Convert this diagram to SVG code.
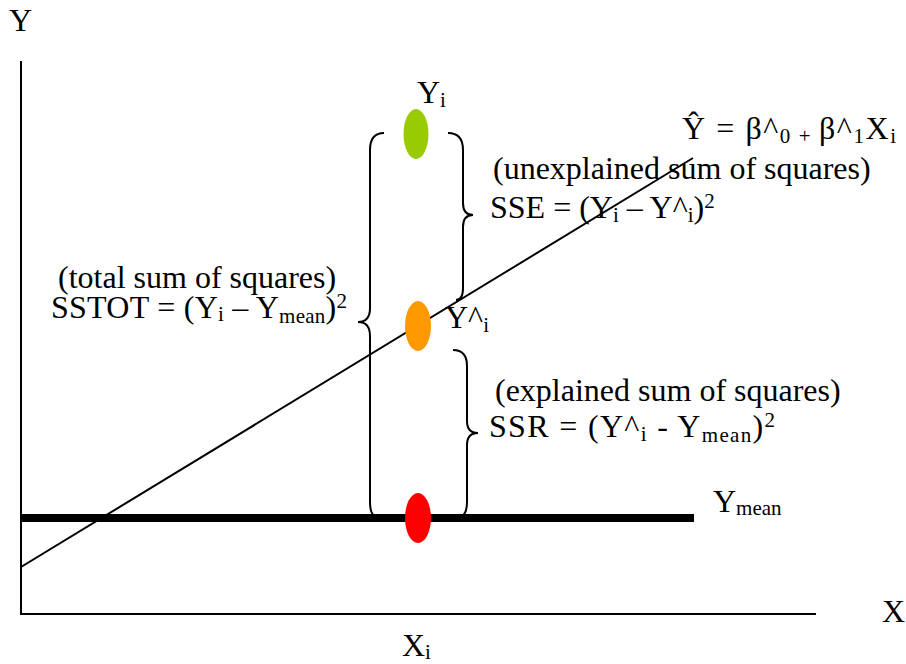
<svg xmlns="http://www.w3.org/2000/svg" width="906" height="664" viewBox="0 0 906 664">
<style>
text{font-family:"Liberation Serif","Times New Roman",serif;font-size:32px;fill:#000}
.sub{font-size:21px}
.axis{stroke:#000;stroke-width:2;fill:none}
.brace{stroke:#000;stroke-width:2;fill:none}
</style>
<rect width="906" height="664" fill="#fff"/>
<g id="axes">
<line class="axis" x1="21" y1="61" x2="21" y2="614"/>
<line class="axis" x1="20" y1="614" x2="816" y2="614"/>
<text x="9" y="31">Y</text>
<text x="882" y="622">X</text>
<text x="402" y="656">X<tspan class="sub" dy="3">i</tspan></text>
</g>
<g id="connectors">
<line id="mean-line" x1="21" y1="518" x2="694" y2="518" stroke="#000" stroke-width="8"/>
<line id="regression-line" x1="21" y1="567" x2="693" y2="158" stroke="#000" stroke-width="2"/>
<path id="brace-total" class="brace" d="M384,133 Q370,133 370,150 L370,308 Q370,322 358,322 Q370,322 370,336 L370,502 Q370,517 378,517"/>
<path id="brace-sse" class="brace" d="M448,133 Q463,133 463,150 L463,203 Q463,215 473,215 Q463,215 463,227 L463,288 Q463,300 456,300"/>
<path id="brace-ssr" class="brace" d="M453,350 Q467,350 467,366 L467,421 Q467,433 478,433 Q467,433 467,445 L467,502 Q467,515 460,517"/>
</g>
<g id="node-yi">
<ellipse cx="416" cy="134" rx="12.5" ry="25" fill="#99cc00"/>
<text x="417" y="103">Y<tspan class="sub" dy="4">i</tspan></text>
</g>
<g id="node-yhat">
<ellipse cx="418" cy="326" rx="13" ry="25" fill="#ff9900"/>
<text x="445" y="328">Y^<tspan class="sub" dy="4">i</tspan></text>
</g>
<g id="node-ymean">
<ellipse cx="418" cy="518" rx="13" ry="25" fill="#ff0000"/>
<text x="713" y="512">Y<tspan class="sub" dy="3">mean</tspan></text>
</g>
<g id="label-equation">
<text x="682" y="139" textLength="214" lengthAdjust="spacing">Ŷ = β^<tspan class="sub" dy="4">0 + </tspan><tspan dy="-4">β^</tspan><tspan class="sub" dy="4">1</tspan><tspan dy="-4">X</tspan><tspan class="sub" dy="4">i</tspan></text>
</g>
<g id="label-sse">
<text x="493" y="179">(unexplained sum of squares)</text>
<text x="490" y="218">SSE = (Y<tspan class="sub" dy="4">i</tspan><tspan dy="-4"> – Y^</tspan><tspan class="sub" dy="4">i</tspan><tspan dy="-4">)</tspan><tspan class="sub" dy="-10">2</tspan></text>
</g>
<g id="label-ssr">
<text x="495" y="401">(explained sum of squares)</text>
<text x="489" y="437" textLength="286" lengthAdjust="spacing">SSR = (Y^<tspan class="sub" dy="4">i</tspan><tspan dy="-4">  -  Y</tspan><tspan class="sub" dy="5">mean</tspan><tspan dy="-5">)</tspan><tspan class="sub" dy="-10">2</tspan></text>
</g>
<g id="label-sstot">
<text x="58" y="288">(total sum of squares)</text>
<text x="51" y="318" textLength="296" lengthAdjust="spacing">SSTOT = (Y<tspan class="sub" dy="3">i</tspan><tspan dy="-3"> – Y</tspan><tspan class="sub" dy="5">mean</tspan><tspan dy="-5">)</tspan><tspan class="sub" dy="-10">2</tspan></text>
</g>
</svg>
